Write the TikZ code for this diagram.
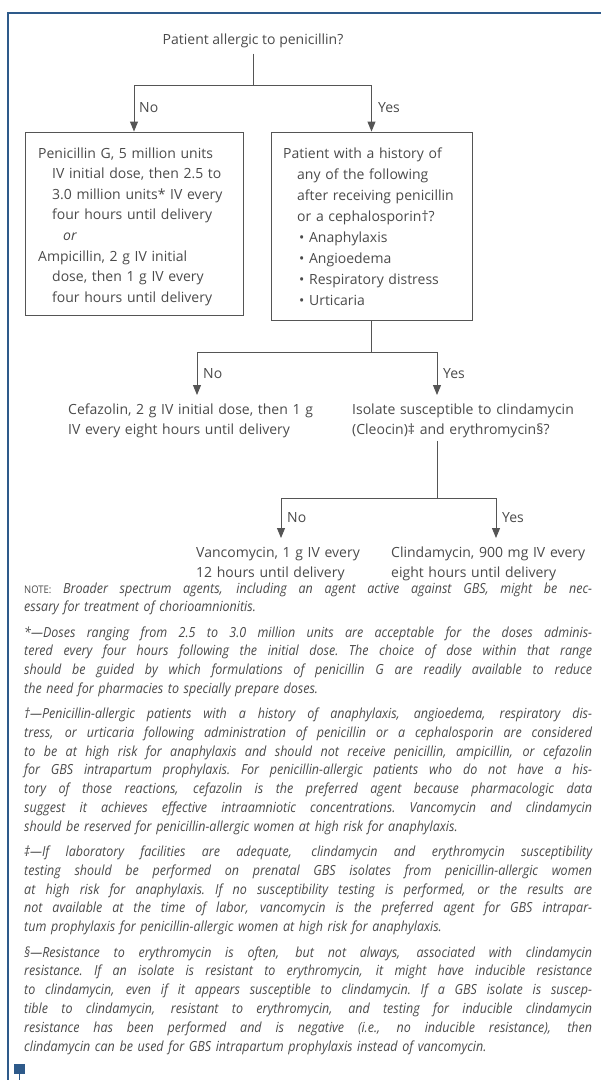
\documentclass[tikz,border=0pt]{standalone}
\usepackage{fontspec}
\setmainfont{Open Sans}
\newfontfamily\fnfont{Open Sans}[FakeStretch=0.9]
\usetikzlibrary{arrows.meta}
\definecolor{txt}{HTML}{4A4A4A}
\definecolor{ln}{HTML}{555555}
\definecolor{framec}{HTML}{2E5A8A}
\newcommand\jl[1]{\leavevmode\hbox to 568pt{\spaceskip=0.26em plus 0.8em minus 0.17em\relax\xspaceskip=\spaceskip #1}}
\begin{document}
\begin{tikzpicture}[x=1pt,y=-1pt,
  every node/.style={inner sep=0pt, text=txt},
  ft/.style={font=\fontsize{14}{20.6}\selectfont, anchor=base west, align=left, text width=#1},
  ft/.default=240pt,
  conn/.style={draw=ln, line width=1pt},
  arr/.style={conn, -{Triangle[length=10pt,width=8pt]}},
  lab/.style={font=\fontsize{14}{16}\selectfont, anchor=base west},
  boxst/.style={draw=ln, line width=0.9pt},
  fn/.style={font=\fnfont\fontsize{13.9}{18.8}\selectfont\itshape, text width=568pt, anchor=base west, align=left}]
\useasboundingbox (0,0) rectangle (601,1080);
% frame
\draw[framec, line width=2pt] (601,13) -- (8,13) -- (8,1080);
\fill[framec] (14,1064) rectangle (25,1074);
\draw[framec, line width=1.6pt] (19.5,1074) -- (19.5,1080);

% level 1
\node[font=\fontsize{14}{16}\selectfont, anchor=base] (q1) at (253,44) {Patient allergic to penicillin?};
\coordinate (j1) at (253,85);
\node[boxst, minimum width=218pt, minimum height=183pt] (lbox) at (134,223.5) {};
\node[boxst, minimum width=201pt, minimum height=188pt] (rbox) at (371.5,226) {};
\draw[conn] ([yshift=-6pt]q1.south) -- (j1);
\draw[arr] (j1) -| (lbox.north);
\draw[arr] (j1) -| (rbox.north);
\node[lab] (no1) at (139,112) {No};
\node[lab] (yes1) at (378,112) {Yes};

\node[ft=200pt] (ltxt) at (38,158) {Penicillin G, 5 million units\\
\hspace*{14pt}IV initial dose, then 2.5 to\\
\hspace*{14pt}3.0 million units* IV every\\
\hspace*{14pt}four hours until delivery\\
\hspace*{25pt}\textit{or}\\
Ampicillin, 2 g IV initial\\
\hspace*{14pt}dose, then 1 g IV every\\
\hspace*{14pt}four hours until delivery};

\node[ft=185pt, font=\fontsize{14}{21}\selectfont] (rtxt) at (283,158) {Patient with a history of\\
\hspace*{14pt}any of the following\\
\hspace*{14pt}after receiving penicillin\\
\hspace*{14pt}or a cephalosporin†?\\
\hspace*{16pt}• Anaphylaxis\\
\hspace*{16pt}• Angioedema\\
\hspace*{16pt}• Respiratory distress\\
\hspace*{16pt}• Urticaria};

% level 2
\coordinate (j2) at (371.5,352);
\coordinate (cefin) at (197,395);
\coordinate (isoin) at (437,395);
\draw[conn] (rbox.south) -- (j2);
\draw[arr] (j2) -| (cefin);
\draw[arr] (j2) -| (isoin);
\node[lab] (no2) at (203,378) {No};
\node[lab] (yes2) at (443,378) {Yes};
\node[ft=270pt] (cef) at (68,414) {Cefazolin, 2 g IV initial dose, then 1 g\\IV every eight hours until delivery};
\node[ft=240pt] (iso) at (352,414) {Isolate susceptible to clindamycin\\(Cleocin)‡ and erythromycin§?};

% level 3
\coordinate (isoout) at (437,441);
\coordinate (j3) at (437,498);
\coordinate (vanin) at (281,538);
\coordinate (clin) at (496,538);
\draw[conn] (isoout) -- (j3);
\draw[arr] (j3) -| (vanin);
\draw[arr] (j3) -| (clin);
\node[lab] (no3) at (287,522) {No};
\node[lab] (yes3) at (502,522) {Yes};
\node[ft=200pt] (van) at (196,557) {Vancomycin, 1 g IV every\\12 hours until delivery};
\node[ft=220pt] (cli) at (391,557) {Clindamycin, 900 mg IV every\\eight hours until delivery};

% footnotes
\node[fn] (fnote) at (24,593) {\jl{{\upshape\fontsize{10.5}{10}\selectfont NOTE:} Broader spectrum agents, including an agent active against GBS, might be nec-}\\
essary for treatment of chorioamnionitis.};

\node[fn] (fstar) at (24,637) {\jl{*—Doses ranging from 2.5 to 3.0 million units are acceptable for the doses adminis-}\\
\jl{tered every four hours following the initial dose. The choice of dose within that range}\\
\jl{should be guided by which formulations of penicillin G are readily available to reduce}\\
the need for pharmacies to specially prepare doses.};

\node[fn] (fdag) at (24,718.5) {\jl{†—Penicillin-allergic patients with a history of anaphylaxis, angioedema, respiratory dis-}\\
\jl{tress, or urticaria following administration of penicillin or a cephalosporin are considered}\\
\jl{to be at high risk for anaphylaxis and should not receive penicillin, ampicillin, or cefazolin}\\
\jl{for GBS intrapartum prophylaxis. For penicillin-allergic patients who do not have a his-}\\
\jl{tory of those reactions, cefazolin is the preferred agent because pharmacologic data}\\
\jl{suggest it achieves effective intraamniotic concentrations. Vancomycin and clindamycin}\\
should be reserved for penicillin-allergic women at high risk for anaphylaxis.};

\node[fn] (fddag) at (24,856.5) {\jl{‡—If laboratory facilities are adequate, clindamycin and erythromycin susceptibility}\\
\jl{testing should be performed on prenatal GBS isolates from penicillin-allergic women}\\
\jl{at high risk for anaphylaxis. If no susceptibility testing is performed, or the results are}\\
\jl{not available at the time of labor, vancomycin is the preferred agent for GBS intrapar-}\\
tum prophylaxis for penicillin-allergic women at high risk for anaphylaxis.};

\node[fn] (fsect) at (24,957) {\jl{§—Resistance to erythromycin is often, but not always, associated with clindamycin}\\
\jl{resistance. If an isolate is resistant to erythromycin, it might have inducible resistance}\\
\jl{to clindamycin, even if it appears susceptible to clindamycin. If a GBS isolate is suscep-}\\
\jl{tible to clindamycin, resistant to erythromycin, and testing for inducible clindamycin}\\
\jl{resistance has been performed and is negative (i.e., no inducible resistance), then}\\
clindamycin can be used for GBS intrapartum prophylaxis instead of vancomycin.};
\end{tikzpicture}
\end{document}
